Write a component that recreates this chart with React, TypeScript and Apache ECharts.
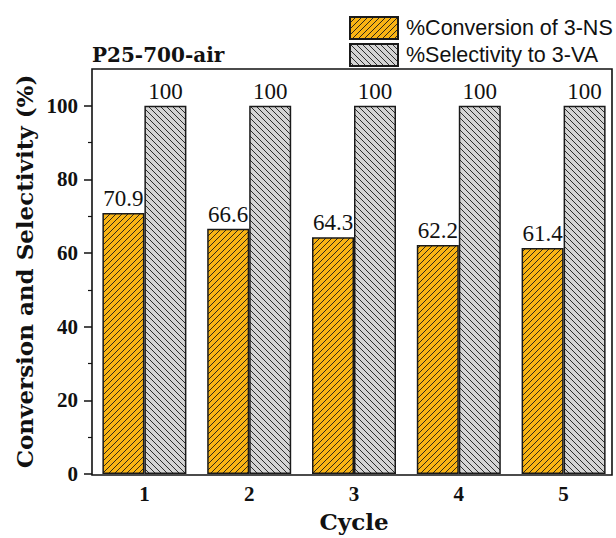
import React, { useEffect, useRef } from "react";
import * as echarts from "echarts";

const categories = ["1", "2", "3", "4", "5"];
const conversion = [70.9, 66.6, 64.3, 62.2, 61.4];
const selectivity = [100, 100, 100, 100, 100];
const majorTicks = [0, 20, 40, 60, 80, 100];
const minorTicks = [10, 30, 50, 70, 90];
const seriesNames = ["%Conversion of 3-NS", "%Selectivity to 3-VA"];

function hatch(bg: string, forward: boolean) {
  const s = 6;
  const h = s / 2;
  const d = forward
    ? `M0,${s} L${s},0 M${-h},${h} L${h},${-h} M${h},${s + h} L${s + h},${h}`
    : `M0,0 L${s},${s} M${-h},${h} L${h},${s + h} M${h},${-h} L${s + h},${h}`;
  const svg = `<svg xmlns="http://www.w3.org/2000/svg" width="${s}" height="${s}"><rect width="${s}" height="${s}" fill="${bg}"/><path d="${d}" stroke="#1a1a1a" stroke-width="0.9"/></svg>`;
  return {
    image: "data:image/svg+xml;charset=utf-8," + encodeURIComponent(svg),
    repeat: "repeat",
    imageWidth: s,
    imageHeight: s,
  };
}

export default function App() {
  const ref = useRef<HTMLDivElement>(null);
  useEffect(() => {
    if (!ref.current) return;
    const chart = echarts.init(ref.current, undefined, { renderer: "svg" });
    const gridLeft = 92;
    const gridTop = 69;
    const gridBottom = 63;
    const frameRight = 612;
    const labelStyle = {
      show: true,
      position: "top",
      distance: 3,
      fontFamily: "Liberation Serif",
      fontSize: 23,
      color: "#111",
    };
    chart.setOption({
      animation: false,
      backgroundColor: "#fff",
      title: {
        text: "P25-700-air",
        left: 92,
        top: 45,
        padding: 0,
        textStyle: {
          fontFamily: "DejaVu Serif",
          fontWeight: "bold",
          fontSize: 20,
          color: "#111",
        },
      },
      legend: {
        orient: "vertical",
        left: 349,
        top: 16,
        padding: 0,
        itemWidth: 48,
        itemHeight: 22,
        itemGap: 3,
        icon: "rect",
        data: seriesNames,
        textStyle: {
          fontFamily: "Liberation Sans",
          fontSize: 21.5,
          color: "#111",
          padding: [0, 0, 0, 3],
        },
      },
      grid: {
        left: gridLeft,
        top: gridTop,
        right: 0,
        bottom: gridBottom,
        containLabel: false,
      },
      xAxis: {
        type: "category",
        data: categories,
        boundaryGap: true,
        axisLine: { show: false },
        axisTick: { show: false },
        axisLabel: {
          margin: 9,
          fontFamily: "Liberation Serif",
          fontWeight: "bold",
          fontSize: 21,
          color: "#111",
        },
        name: "Cycle",
        nameLocation: "middle",
        nameGap: 36,
        nameTextStyle: {
          fontFamily: "DejaVu Serif",
          fontWeight: "bold",
          fontSize: 23,
          color: "#111",
        },
      },
      yAxis: [
        {
          type: "value",
          min: 0,
          max: 110,
          interval: 20,
          axisLine: { show: false },
          splitLine: { show: false },
          axisTick: {
            show: true,
            length: 8,
            customValues: majorTicks,
            lineStyle: { color: "#111", width: 1.5 },
          },
          axisLabel: {
            customValues: majorTicks,
            margin: 14,
            fontFamily: "Liberation Serif",
            fontWeight: "bold",
            fontSize: 21,
            color: "#111",
          },
          name: "Conversion and Selectivity (%)",
          nameLocation: "middle",
          nameGap: 55,
          nameTextStyle: {
            fontFamily: "DejaVu Serif",
            fontWeight: "bold",
            fontSize: 23,
            color: "#111",
          },
        },
        {
          type: "value",
          position: "left",
          min: 0,
          max: 110,
          interval: 10,
          axisLine: { show: false },
          splitLine: { show: false },
          axisLabel: { show: false },
          axisTick: {
            show: true,
            length: 4,
            customValues: minorTicks,
            lineStyle: { color: "#111", width: 1.2 },
          },
        },
      ],
      series: [
        {
          name: seriesNames[0],
          type: "bar",
          data: conversion,
          barWidth: 42,
          barGap: "0%",
          itemStyle: {
            color: hatch("#F9B414", true),
            borderColor: "#1a1a1a",
            borderWidth: 1.5,
          },
          label: labelStyle,
        },
        {
          name: seriesNames[1],
          type: "bar",
          data: selectivity,
          barWidth: 42,
          barGap: "0%",
          itemStyle: {
            color: hatch("#D4D4D4", false),
            borderColor: "#1a1a1a",
            borderWidth: 1.5,
          },
          label: labelStyle,
        },
      ],
      graphic: [
        {
          type: "rect",
          silent: true,
          z: 100,
          shape: {
            x: gridLeft,
            y: gridTop,
            width: frameRight - gridLeft,
            height: 538 - gridBottom - gridTop,
          },
          style: { fill: "none", stroke: "#111", lineWidth: 1.6 },
        },
      ],
    });
    return () => chart.dispose();
  }, []);
  return (
    <div
      ref={ref}
      style={{ position: "absolute", left: 0, top: 0, width: 616, height: 538 }}
    />
  );
}
